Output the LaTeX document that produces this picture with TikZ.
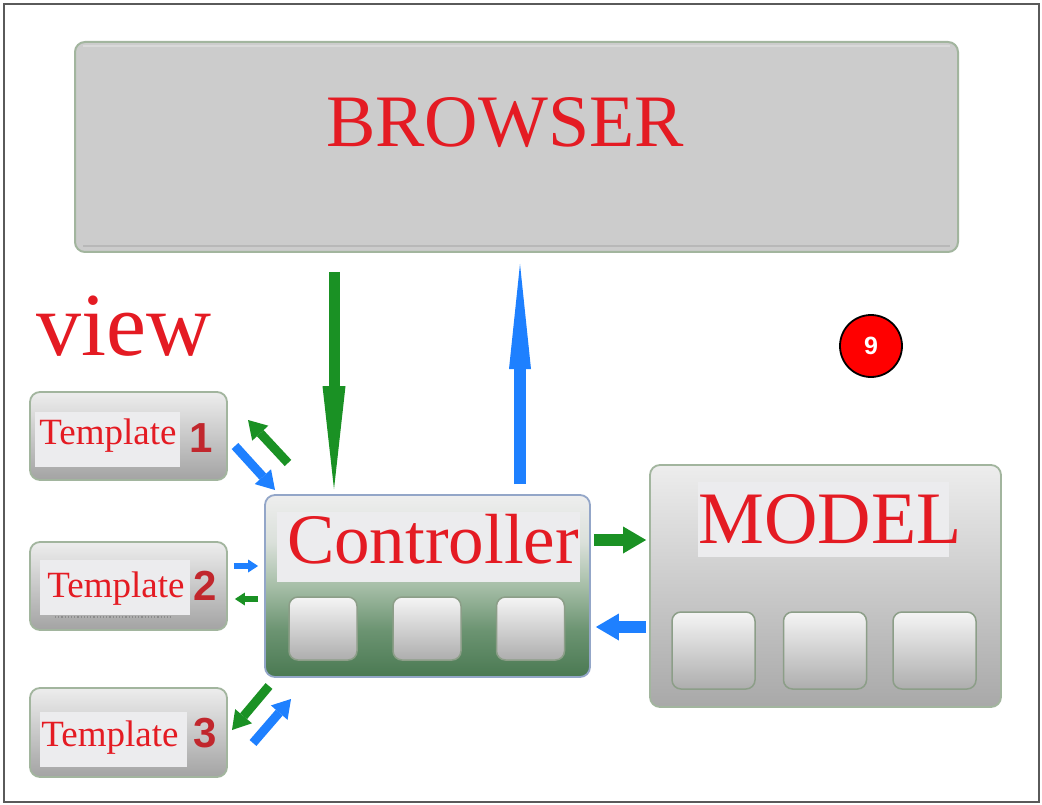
\documentclass[tikz,border=0pt]{standalone}
\usepackage{fontspec}
\usetikzlibrary{arrows.meta,calc}
\newfontfamily\labelserif{Liberation Serif}
\newfontfamily\labelsans{Liberation Sans}

\definecolor{txtred}{HTML}{E41B23}
\definecolor{numred}{HTML}{C1272D}
\definecolor{arrgreen}{HTML}{1A9124}
\definecolor{arrblue}{HTML}{1E80FF}
\definecolor{boxedge}{HTML}{A2B59E}
\definecolor{ctrledge}{HTML}{93A6C8}
\definecolor{sqedge}{HTML}{8C9E88}
\definecolor{panelfill}{HTML}{ECECEE}
\definecolor{framegray}{HTML}{5A5A5A}

% vertical shading for the controller body: light gray on top, deep green at the bottom
\pgfdeclareverticalshading{ctrlshade}{100bp}{%
  color(0bp)=(rgb,255:red,74;green,121;blue,82);
  color(25bp)=(rgb,255:red,74;green,121;blue,82);
  color(38bp)=(rgb,255:red,108;green,148;blue,114);
  color(50bp)=(rgb,255:red,166;green,190;blue,167);
  color(62bp)=(rgb,255:red,218;green,224;blue,218);
  color(75bp)=(rgb,255:red,238;green,238;blue,238);
  color(100bp)=(rgb,255:red,238;green,238;blue,238)}

\tikzset{
  box/.style={draw=boxedge, line width=1.8pt, rounded corners=10pt,
    top color=black!7, bottom color=#1},
  box/.default={black!33},
  panel/.style={fill=panelfill, draw=none, inner sep=0pt},
  sqbox/.style={draw=sqedge, line width=1.5pt, rounded corners=9pt,
    top color=black!4, bottom color=black!32, inner sep=0pt},
  bigtxt/.style={text=txtred, inner sep=0pt, anchor=base},
  numtxt/.style={text=numred, inner sep=0pt, anchor=base,
    font=\labelsans\bfseries\fontsize{42}{44}\selectfont},
  tpltxt/.style={bigtxt, font=\labelserif\fontsize{37}{40}\selectfont},
  longgreen/.style={draw=arrgreen, line width=11pt,
    -{Triangle[length=103pt,width=23pt,line width=0pt]}},
  longblue/.style={draw=arrblue, line width=12pt,
    -{Triangle[length=105pt,width=22pt,line width=0pt]}},
  sidearrow/.style={draw=#1, line width=12pt,
    -{Triangle[length=23pt,width=27pt,line width=0pt]}},
  diagarrow/.style={draw=#1, line width=9pt,
    -{Triangle[length=18pt,width=22pt,line width=0pt]}},
  tinyarrow/.style={draw=#1, line width=6pt,
    -{Triangle[length=10pt,width=13pt,line width=0pt]}},
}

\begin{document}
\begin{tikzpicture}[x=1pt,y=-1pt]
\useasboundingbox (0,0) rectangle (1042,805);
\fill[white] (0,0) rectangle (1042,805);
\draw[framegray, line width=2pt] (4,4) rectangle (1039,802);

% ---------- browser ----------
\node[draw=boxedge, line width=2pt, rounded corners=10pt, fill=black!20,
      minimum width=883pt, minimum height=210pt] (browser) at (516.5,147) {};
\draw[white!85!black, line width=2pt] (83,46) -- (950,46);
\draw[black!28, line width=2pt] (83,246) -- (950,246);
\node[bigtxt, font=\labelserif\fontsize{74}{80}\selectfont] (browsertxt) at (505,147) {BROWSER};

% ---------- view label ----------
\node[bigtxt, font=\labelserif\fontsize{90}{96}\selectfont] (viewtxt) at (124,355) {view};

% ---------- badge ----------
\node[circle, draw=black, line width=1.8pt, fill=red, minimum size=62pt, inner sep=0pt,
      text=white, font=\labelsans\bfseries\fontsize{25}{27}\selectfont] (badge) at (871,346) {9};

% ---------- templates ----------
\node[box=black!36, minimum width=197pt, minimum height=88pt] (t1) at (128.5,436) {};
\node[box=black!36, minimum width=197pt, minimum height=88pt] (t2) at (128.5,586) {};
\node[box=black!36, minimum width=197pt, minimum height=89pt] (t3) at (128.5,732.5) {};

\node[panel, minimum width=145pt, minimum height=55pt] (t1p) at (107.5,439.5) {};
\node[panel, minimum width=150pt, minimum height=55pt] (t2p) at (115,587.5) {};
\node[panel, minimum width=147pt, minimum height=55pt] (t3p) at (113.5,739.5) {};
\draw[black!45, line width=1.2pt, dotted] (55,617) -- (172,617);

\node[tpltxt] (t1txt) at (108,444) {Template};
\node[tpltxt] (t2txt) at (116,597) {Template};
\node[tpltxt] (t3txt) at (110,746) {Template};
\node[numtxt] (t1num) at (201,452) {1};
\node[numtxt] (t2num) at (205,600) {2};
\node[numtxt] (t3num) at (205,747) {3};

% ---------- controller ----------
\node[draw=ctrledge, line width=1.8pt, rounded corners=10pt, shading=ctrlshade,
      minimum width=325pt, minimum height=182pt] (ctrl) at (427.5,586) {};
\node[panel, minimum width=303pt, minimum height=70pt] (ctrlp) at (428.5,547) {};
\node[bigtxt, font=\labelserif\fontsize{71}{76}\selectfont] (ctrltxt) at (433,563) {Controller};
\foreach \cx [count=\i] in {323,427,530.5}
  \node[sqbox, minimum width=68pt, minimum height=63pt] (csq\i) at (\cx,628.5) {};

% ---------- model ----------
\node[box=black!34, minimum width=351pt, minimum height=242pt] (model) at (825.5,586) {};
\node[panel, minimum width=251pt, minimum height=75pt] (modelp) at (823.5,519.5) {};
\node[bigtxt, font=\labelserif\fontsize{74}{80}\selectfont] (modeltxt) at (830,543) {MODEL};
\foreach \cx [count=\i] in {713.5,825,934.5}
  \node[sqbox, minimum width=83pt, minimum height=77pt] (msq\i) at (\cx,650.5) {};

% ---------- browser <-> controller ----------
\coordinate (downx) at (334,0);
\coordinate (upx) at (520,0);
\draw[longgreen, shorten <=19pt, shorten >=5pt] (browser.south -| downx) -- (ctrl.north -| downx);
\draw[longblue, shorten <=10pt, shorten >=11pt] (ctrl.north -| upx) -- (browser.south -| upx);

% ---------- controller <-> model ----------
\coordinate (righty) at (0,540);
\coordinate (lefty) at (0,627);
\draw[sidearrow=arrgreen, shorten <=3pt, shorten >=3pt] (ctrl.east |- righty) -- (model.west |- righty);
\draw[sidearrow=arrblue, shorten <=3pt, shorten >=5pt] (model.west |- lefty) -- (ctrl.east |- lefty);

% ---------- templates <-> controller ----------
\coordinate (a1s) at (235,446);  \coordinate (a1e) at (275,490);
\coordinate (b1s) at (288,463);  \coordinate (b1e) at (248,420);
\draw[diagarrow=arrblue] (a1s) -- (a1e);
\draw[diagarrow=arrgreen] (b1s) -- (b1e);

\coordinate (a2y) at (0,566);
\coordinate (b2y) at (0,599);
\draw[tinyarrow=arrblue, shorten <=6pt, shorten >=6pt] (t2.east |- a2y) -- (ctrl.west |- a2y);
\draw[tinyarrow=arrgreen, shorten <=6pt, shorten >=7pt] (ctrl.west |- b2y) -- (t2.east |- b2y);

\coordinate (a3s) at (269,686);  \coordinate (a3e) at (232,730);
\coordinate (b3s) at (253,743);  \coordinate (b3e) at (291,699);
\draw[diagarrow=arrgreen] (a3s) -- (a3e);
\draw[diagarrow=arrblue] (b3s) -- (b3e);
\end{tikzpicture}
\end{document}
